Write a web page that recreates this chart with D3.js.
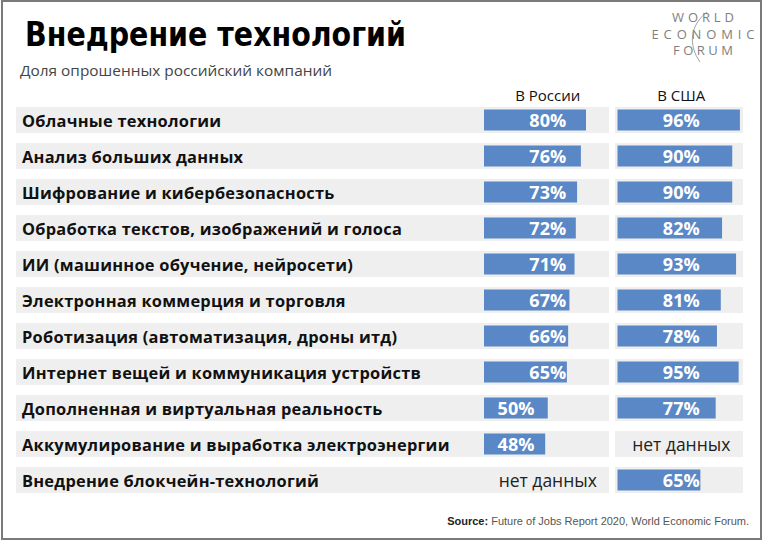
<!DOCTYPE html>
<html><head><meta charset="utf-8">
<script src="https://cdn.jsdelivr.net/npm/d3@7"></script>
<style>body{margin:0;background:#fff}svg{display:block}</style>
</head><body>
<svg id="c" width="765" height="541"></svg>
<script>
const categories = [
  "Облачные технологии",
  "Анализ больших данных",
  "Шифрование и кибербезопасность",
  "Обработка текстов, изображений и голоса",
  "ИИ (машинное обучение, нейросети)",
  "Электронная коммерция и торговля",
  "Роботизация (автоматизация, дроны итд)",
  "Интернет вещей и коммуникация устройств",
  "Дополненная и виртуальная реальность",
  "Аккумулирование и выработка электроэнергии",
  "Внедрение блокчейн-технологий"
];
const russia = [80, 76, 73, 72, 71, 67, 66, 65, 50, 48, null];
const usa    = [96, 90, 90, 82, 93, 81, 78, 95, 77, null, 65];
const seriesNames = ["В России", "В США"];
const noData = "нет данных";
const title = "Внедрение технологий";
const subtitle = "Доля опрошенных российский компаний";
const logoLines = ["WORLD", "ECONOMIC", "FORUM"];

const svg = d3.select("#c");
const barColor = "#5a87c6", bandColor = "#efefef";

svg.append("rect").attr("x",2).attr("y",1).attr("width",759).attr("height",538)
  .attr("fill","#fff").attr("stroke","#7a7a7a").attr("stroke-width",2);

svg.append("text").attr("x",25).attr("y",46).text(title)
  .attr("font-family","'Liberation Sans Narrow','DejaVu Sans Condensed',sans-serif")
  .attr("font-weight","bold").attr("font-size",33).attr("fill","#000")
  .attr("textLength",381).attr("lengthAdjust","spacingAndGlyphs");
svg.append("text").attr("x",20).attr("y",76).text(subtitle)
  .attr("font-family","'Open Sans',sans-serif").attr("font-size",14).attr("fill","#444")
  .attr("textLength",312).attr("lengthAdjust","spacingAndGlyphs");

// logo
const logo = svg.append("g").attr("font-family","'Open Sans',sans-serif").attr("fill","#808080")
  .attr("text-anchor","middle").attr("font-size",13);
const logoY = [22, 38.5, 55], logoW = [62, 103, 60];
logoLines.forEach((t,i)=>{
  logo.append("text").attr("x",703).attr("y",logoY[i]).text(t)
    .attr("textLength",logoW[i]).attr("lengthAdjust","spacing");
});
svg.append("path").attr("d","M707,12 C690,25 688,45 700,62").attr("fill","none")
  .attr("stroke","#8a8a8a").attr("stroke-width",0.8);

const y = d3.scaleBand().domain(categories).range([102, 498]);
const x = d3.scaleLinear().domain([0, 100]).range([0, 127.5]);
const cols = [{x0:484, vals:russia, bandX:16, bandW:593}, {x0:617.5, vals:usa, bandX:615, bandW:128}];

// headers
cols.forEach((c,i)=>{
  svg.append("text").attr("x", c.x0 + x(50)).attr("y", 101).attr("text-anchor","middle")
    .attr("font-family","'Open Sans',sans-serif").attr("font-size",15).attr("fill","#111")
    .text(seriesNames[i]);
});

const rows = svg.append("g").selectAll("g").data(categories).join("g")
  .attr("transform", d => `translate(0,${y(d)})`);

cols.forEach(c=>{
  rows.append("rect").attr("x",c.bandX).attr("y",5).attr("width",c.bandW).attr("height",26)
    .attr("fill",bandColor);
});

rows.append("text").attr("x",22).attr("y",24.7).text(d=>d)
  .attr("font-family","'Open Sans',sans-serif").attr("font-weight",700)
  .attr("font-size",16.4).attr("letter-spacing",0.25).attr("fill","#111");

cols.forEach(c=>{
  rows.each(function(d,i){
    const v = c.vals[i];
    const g = d3.select(this);
    const colCenter = c.x0 + x(50);
    if (v == null) {
      g.append("text").attr("x", colCenter).attr("y", 25).attr("text-anchor","middle")
        .attr("font-family","'Open Sans',sans-serif").attr("font-size",17.5).attr("fill","#222")
        .text(noData);
    } else {
      const end = c.x0 + x(v);
      g.append("rect").attr("x", c.x0).attr("y", 7.5).attr("width", x(v)).attr("height", 21)
        .attr("fill", barColor);
      const cx = (colCenter + 18 <= end) ? colCenter : c.x0 + 32;
      g.append("text").attr("x", cx).attr("y", 25.3).attr("text-anchor","middle")
        .attr("font-family","'Open Sans',sans-serif").attr("font-weight",700)
        .attr("font-size",18).attr("fill","#fff").text(v + "%");
    }
  });
});

const src = svg.append("text").attr("x",749).attr("y",525).attr("text-anchor","end")
  .attr("font-family","'Liberation Sans',Arial,sans-serif").attr("font-size",11).attr("fill","#555");
src.append("tspan").attr("font-weight","bold").attr("fill","#222").text("Source:");
src.append("tspan").text(" Future of Jobs Report 2020, World Economic Forum.");
</script>
</body></html>
